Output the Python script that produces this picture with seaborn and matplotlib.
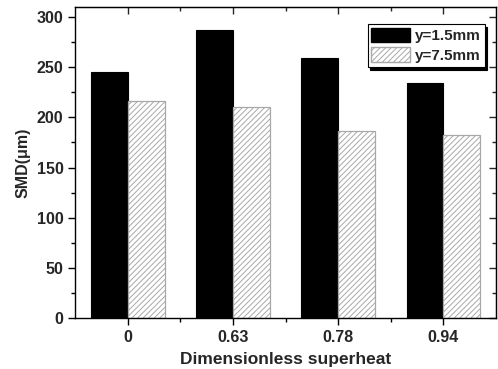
import numpy as np
import pandas as pd
import matplotlib
matplotlib.use('Agg')
import matplotlib.pyplot as plt
from matplotlib.patches import Patch
from matplotlib.ticker import MultipleLocator, FixedLocator
import seaborn as sns

sns.set_style('ticks')
plt.rcParams['font.family'] = ['Liberation Sans', 'DejaVu Sans']
plt.rcParams['font.weight'] = 'bold'
plt.rcParams['hatch.linewidth'] = 0.7

superheat = ['0', '0.63', '0.78', '0.94']
series = ['y=1.5mm', 'y=7.5mm']
smd_15 = [245, 287, 259, 234]
smd_75 = [216, 210, 186, 182]

df = pd.DataFrame({
    'superheat': superheat * 2,
    'series': [series[0]] * 4 + [series[1]] * 4,
    'smd': smd_15 + smd_75,
})

fig = plt.figure(figsize=(4.98, 3.69), dpi=100)
ax = fig.add_axes([0.151, 0.138, 0.845, 0.843])

sns.barplot(data=df, x='superheat', y='smd', hue='series', order=superheat,
            hue_order=series, palette=['black', 'white'], width=0.7,
            saturation=1, legend=False, ax=ax)

# style the bars: black solid, grey hatched
hatch_grey = '#a8a8a8'
for cont, s in zip(ax.containers, series):
    for bar in cont:
        if s == series[0]:
            bar.set_edgecolor('black')
            bar.set_linewidth(0.8)
        else:
            bar.set_facecolor('white')
            bar.set_edgecolor(hatch_grey)
            bar.set_hatch('//////')
            bar.set_linewidth(0.9)

ax.set_xlim(-0.5, 3.5)
ax.set_ylim(0, 310)
ax.yaxis.set_major_locator(MultipleLocator(50))
ax.yaxis.set_minor_locator(MultipleLocator(25))
ax.xaxis.set_minor_locator(FixedLocator([0.5, 1.5, 2.5]))

ax.tick_params(axis='both', which='major', direction='out', length=5, width=1,
               labelsize=11.5, color='black')
ax.tick_params(axis='both', which='minor', direction='out', length=3, width=1,
               color='black')
for lab in ax.get_xticklabels() + ax.get_yticklabels():
    lab.set_fontweight('bold')

# inward ticks on top and right, no labels
sec_y = ax.secondary_yaxis('right')
sec_y.yaxis.set_major_locator(MultipleLocator(50))
sec_y.yaxis.set_minor_locator(MultipleLocator(25))
sec_y.tick_params(which='major', direction='in', length=5, width=1, labelright=False)
sec_y.tick_params(which='minor', direction='in', length=3, width=1)
sec_x = ax.secondary_xaxis('top')
sec_x.xaxis.set_major_locator(FixedLocator([0, 1, 2, 3]))
sec_x.xaxis.set_minor_locator(FixedLocator([0.5, 1.5, 2.5]))
sec_x.tick_params(which='major', direction='in', length=5, width=1, labeltop=False)
sec_x.tick_params(which='minor', direction='in', length=3, width=1)

for sp in ax.spines.values():
    sp.set_visible(True)
    sp.set_color('black')
    sp.set_linewidth(1)

ax.set_xlabel('Dimensionless superheat', fontsize=12.5, fontweight='bold', labelpad=5)
ax.set_ylabel('SMD(\u03bcm)', fontsize=11.5, fontweight='bold', labelpad=4)

handles = [Patch(facecolor='black', edgecolor='black'),
           Patch(facecolor='white', edgecolor=hatch_grey, hatch='//////')]
leg = ax.legend(handles, series, loc='upper right', bbox_to_anchor=(0.973, 0.946),
                fancybox=False, shadow={'color': 'black', 'alpha': 1},
                framealpha=1, edgecolor='black', handlelength=2.5,
                handleheight=1.1, handletextpad=0.35, borderpad=0.25,
                labelspacing=0.28, borderaxespad=0,
                prop={'weight': 'bold', 'size': 11})
leg.get_frame().set_linewidth(0.8)

fig.savefig('out.png', dpi=100)
